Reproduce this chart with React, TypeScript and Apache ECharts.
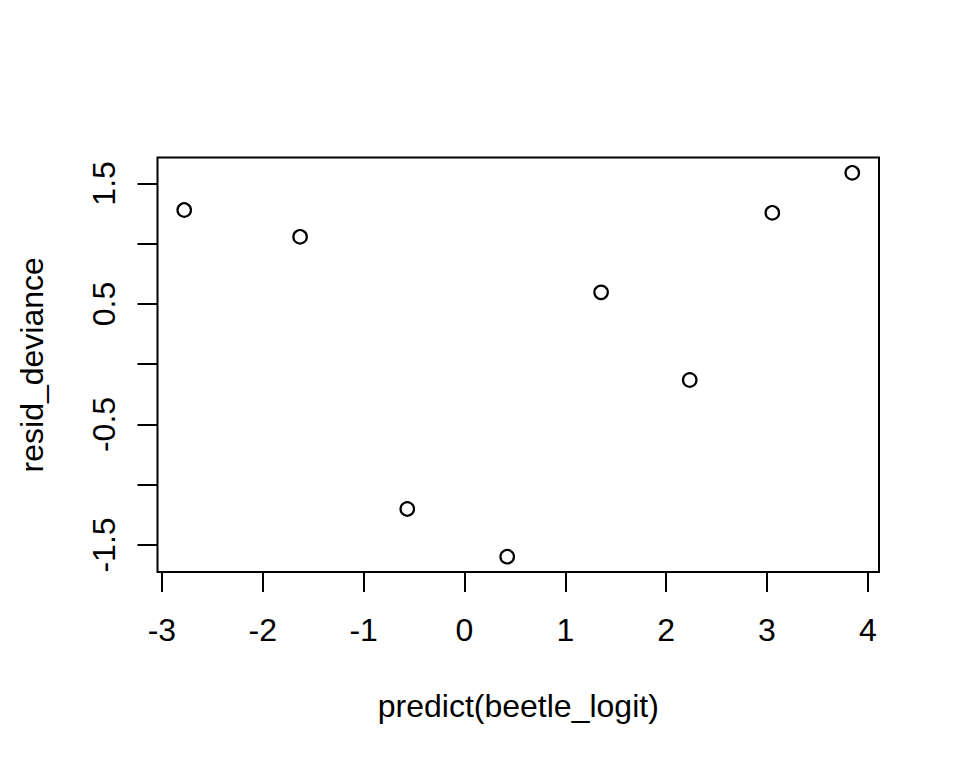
import React, { useEffect, useRef } from "react";
import * as echarts from "echarts";

const xValues = [-2.779, -1.630, -0.567, 0.424, 1.355, 2.234, 3.053, 3.846];
const yValues = [1.279, 1.057, -1.201, -1.597, 0.596, -0.131, 1.256, 1.588];
const xTicks = [-3, -2, -1, 0, 1, 2, 3, 4];
const yTicks = [-1.5, -1.0, -0.5, 0, 0.5, 1.0, 1.5];
const yLabels = [-1.5, -0.5, 0.5, 1.5];
const xTitle = "predict(beetle_logit)";
const yTitle = "resid_deviance";

const FONT = "'Liberation Sans', Arial, Helvetica, sans-serif";

export default function App() {
  const ref = useRef<HTMLDivElement>(null);
  useEffect(() => {
    if (!ref.current) return;
    const chart = echarts.init(ref.current, undefined, { renderer: "svg" });
    const xMin = -3.044, xMax = 4.111, yMin = -1.724, yMax = 1.715;
    chart.setOption({
      animation: false,
      backgroundColor: "#ffffff",
      grid: {
        left: 157.5,
        top: 157.5,
        width: 721.5,
        height: 414.5,
        show: true,
        borderColor: "#000",
        borderWidth: 2,
        backgroundColor: "transparent",
      },
      xAxis: {
        type: "value",
        min: xMin,
        max: xMax,
        name: xTitle,
        nameLocation: "middle",
        nameGap: 118,
        nameTextStyle: { fontFamily: FONT, fontSize: 32, color: "#000" },
        axisLine: { show: false, onZero: false },
        splitLine: { show: false },
        axisTick: {
          show: true,
          length: 20,
          customValues: xTicks,
          lineStyle: { color: "#000", width: 2 },
        },
        axisLabel: {
          customValues: xTicks,
          margin: 42,
          fontFamily: FONT,
          fontSize: 32,
          color: "#000",
          formatter: (v: number) => String(v),
        },
      },
      yAxis: {
        type: "value",
        min: yMin,
        max: yMax,
        name: yTitle,
        nameLocation: "middle",
        nameRotate: 90,
        nameGap: 110,
        nameTextStyle: { fontFamily: FONT, fontSize: 32, color: "#000" },
        axisLine: { show: false, onZero: false },
        splitLine: { show: false },
        axisTick: {
          show: true,
          length: 20,
          customValues: yTicks,
          lineStyle: { color: "#000", width: 2 },
        },
        axisLabel: {
          customValues: yLabels,
          rotate: 90,
          margin: 38,
          fontFamily: FONT,
          fontSize: 32,
          color: "#000",
          formatter: (v: number) => v.toFixed(1),
        },
      },
      series: [
        {
          type: "scatter",
          data: xValues.map((x, i) => [x, yValues[i]]),
          symbol: "circle",
          symbolSize: 13.5,
          itemStyle: { color: "transparent", borderColor: "#000", borderWidth: 2.2, opacity: 1 },
          emphasis: { disabled: true },
        },
      ],
    });
    return () => chart.dispose();
  }, []);
  return (
    <div
      ref={ref}
      style={{ position: "fixed", left: 0, top: 0, width: 960, height: 768, background: "#fff" }}
    />
  );
}
